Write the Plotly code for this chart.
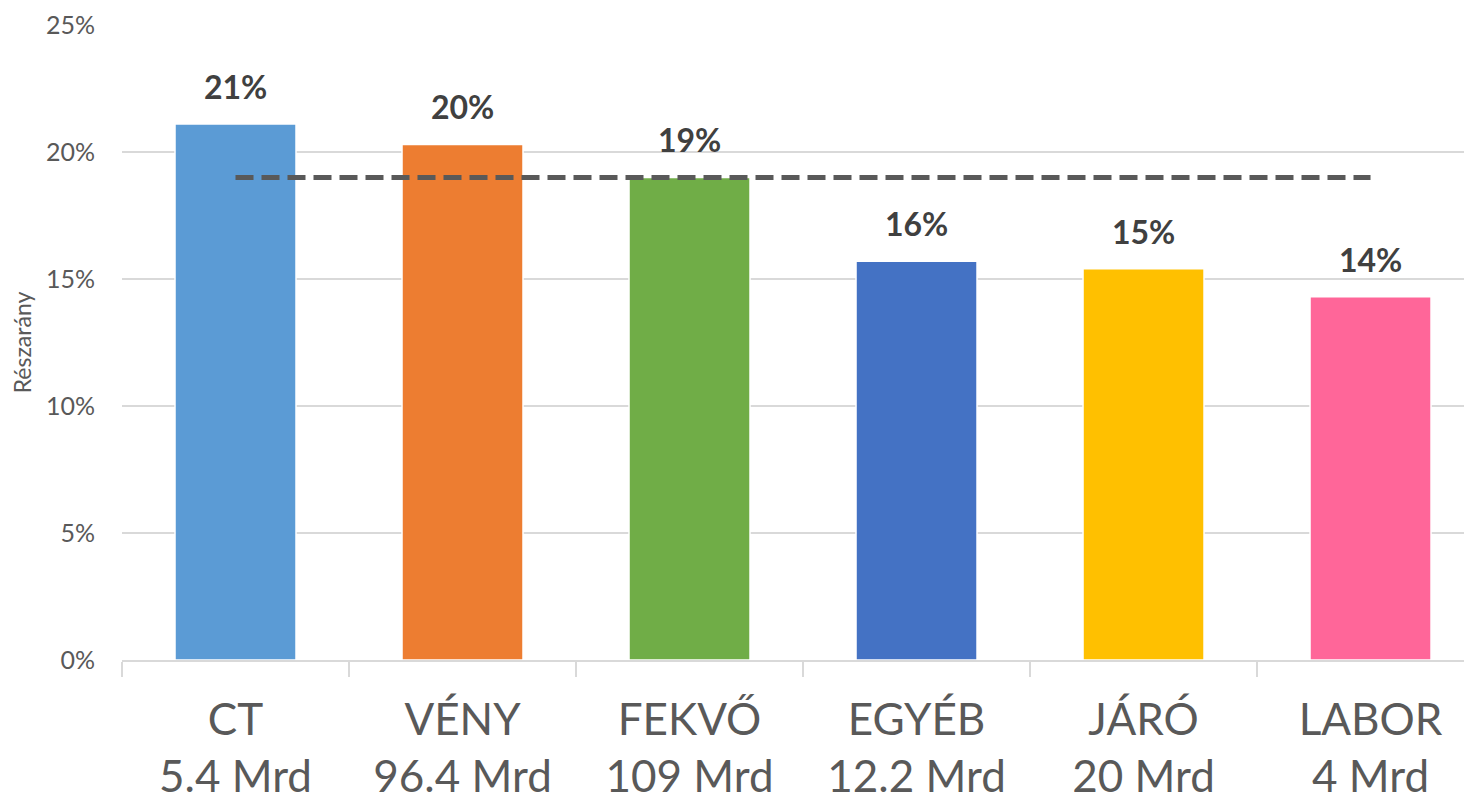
import plotly.graph_objects as go

categories = ["CT", "VÉNY", "FEKVŐ", "EGYÉB", "JÁRÓ", "LABOR"]
amounts = ["5.4 Mrd", "96.4 Mrd", "109 Mrd", "12.2 Mrd", "20 Mrd", "4 Mrd"]
shares = [0.211, 0.203, 0.190, 0.157, 0.154, 0.143]
average = [0.190, 0.190, 0.190, 0.190, 0.190, 0.190]
colors = ["#5B9BD5", "#ED7D31", "#70AD47", "#4472C4", "#FFC000", "#FF6699"]

labels = [f"{c}<br>{a}" for c, a in zip(categories, amounts)]

FONT = "Lato"

fig = go.Figure()
fig.add_trace(go.Bar(
    x=labels, y=shares,
    marker=dict(color=colors, line=dict(color="white", width=1.5)),
    hoverinfo="skip", showlegend=False,
))
fig.add_trace(go.Scatter(
    x=labels, y=average, mode="lines",
    line=dict(color="#595959", width=5, dash="18px,8px"),
    hoverinfo="skip", showlegend=False,
))

for lab, v in zip(labels, shares):
    fig.add_annotation(
        x=lab, y=v, text=f"<b>{round(v*100)}%</b>", showarrow=False,
        yanchor="bottom", yshift=16,
        font=dict(family=FONT, size=32, color="#404040"),
    )

fig.update_layout(
    width=1464, height=792,
    margin=dict(l=114, r=0, t=17, b=140),
    plot_bgcolor="white", paper_bgcolor="white",
    bargap=0.467,
    font=dict(family=FONT, color="#595959"),
)
fig.update_xaxes(
    automargin=False,
    range=[-0.5, 5.447],
    showgrid=False, showline=True, linecolor="#D9D9D9", linewidth=1.5,
    ticks="outside", tickson="boundaries", ticklen=15, tickcolor="#D9D9D9", tickwidth=1.5,
    tickfont=dict(family=FONT, size=44, color="#595959"),
    ticklabelstandoff=20,
)
fig.update_yaxes(
    automargin=False,
    range=[0, 0.25], dtick=0.05, tickformat=".0%",
    showgrid=True, gridcolor="#D9D9D9", gridwidth=1.5,
    zeroline=False, showline=False,
    tickfont=dict(family=FONT, size=25, color="#595959"),
    ticklabelstandoff=26,
    title=dict(text="Részarány", font=dict(family=FONT, size=23, color="#595959"), standoff=14),
)

fig.write_html("out.html")
